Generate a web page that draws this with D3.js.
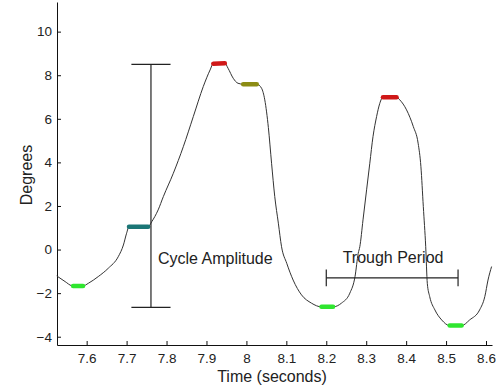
<!DOCTYPE html>
<html>
<head>
<meta charset="utf-8">
<script src="https://cdn.jsdelivr.net/npm/d3@7"></script>
<style>
  body { margin: 0; background: #fff; }
  svg text { font-family: "Liberation Sans", Arial, sans-serif; fill: #222; }
</style>
</head>
<body>
<svg width="497" height="390"></svg>
<script>

// traced signal: time (s) and angle (degrees)
var time = [7.525, 7.546, 7.5625, 7.566, 7.591, 7.604, 7.629, 7.654, 7.679, 7.692, 7.700, 7.706,
  7.754, 7.763, 7.779, 7.792, 7.817, 7.842, 7.867, 7.892, 7.909, 7.917, 7.946, 7.954, 7.967,
  7.979, 7.992, 8.026, 8.038, 8.046, 8.055, 8.063, 8.071, 8.080, 8.088, 8.101, 8.117, 8.138,
  8.163, 8.188, 8.217, 8.238, 8.259, 8.272, 8.280, 8.284, 8.292, 8.301, 8.309, 8.317, 8.326,
  8.334, 8.342, 8.376, 8.384, 8.401, 8.418, 8.430, 8.437, 8.443, 8.449, 8.453, 8.459, 8.472,
  8.489, 8.509, 8.539, 8.559, 8.584, 8.597, 8.605, 8.614];
var degrees = [-1.21, -1.47, -1.66, -1.67, -1.67, -1.55, -1.24, -0.86, -0.33, 0.21, 0.75, 1.05,
  1.05, 1.28, 1.82, 2.43, 3.5, 4.72, 6.1, 7.48, 8.24, 8.53, 8.55, 8.32, 7.86,
  7.63, 7.59, 7.59, 7.4, 6.87, 5.6, 3.96, 2.43, 1.21, 0.13, -0.63, -1.4, -2.08,
  -2.46, -2.63, -2.63, -2.46, -2.0, -1.24, -0.17, 0.13, 1.36, 2.74, 3.96, 5.18, 6.1,
  6.71, 6.99, 6.99, 6.87, 6.41, 5.64, 4.88, 3.8, 1.97, 0.13, -1.55, -2.16, -2.77,
  -3.23, -3.49, -3.49, -3.23, -2.77, -2.16, -1.4, -0.78];

// highlighted peaks / troughs: [start time, end time, colour]
var markStart = [7.566, 7.706, 7.917, 7.992, 8.342, 8.188, 8.509];
var markEnd   = [7.591, 7.754, 7.946, 8.026, 8.376, 8.217, 8.539];
var markColor = ["#2fe62f", "#1b7676", "#d01818", "#8c8c14", "#d01818", "#2fe62f", "#2fe62f"];

var xTicks = [7.6, 7.7, 7.8, 7.9, 8.0, 8.1, 8.2, 8.3, 8.4, 8.5, 8.6];
var yTicks = [-4, -2, 0, 2, 4, 6, 8, 10];

// annotation bars
var ampTime = 7.761, ampTop = 8.5, ampBottom = -2.65, ampCapHalf = 0.049;
var perStart = 8.20, perEnd = 8.53, perLevel = -1.3, perCapHalf = 0.38;

var svg = d3.select("svg");

var x = d3.scaleLinear().domain([7.5257, 8.615]).range([57, 492]);
var y = d3.scaleLinear().domain([-4.38, 11.36]).range([345, 2]);

var gx = svg.append("g")
    .attr("transform", "translate(0,345)")
    .call(d3.axisBottom(x).tickValues(xTicks)
      .tickFormat(function(d) { return d == 8 ? "8" : d3.format(".1f")(d); })
      .tickSizeInner(-4).tickSizeOuter(0).tickPadding(8));
var gy = svg.append("g")
    .attr("transform", "translate(57,0)")
    .call(d3.axisLeft(y).tickValues(yTicks).tickSizeInner(-4).tickSizeOuter(0).tickPadding(5));

svg.selectAll(".tick text").style("font-size", "13.5px").style("fill", "#222");
svg.selectAll(".domain, .tick line").attr("stroke", "#111");

svg.append("text")
    .attr("transform", "translate(32,175) rotate(-90)")
    .attr("text-anchor", "middle")
    .style("font-size", "16px")
    .text("Degrees");
svg.append("text")
    .attr("x", 272).attr("y", 382)
    .attr("text-anchor", "middle")
    .style("font-size", "16px")
    .text("Time (seconds)");

var pts = time.map(function(t, i) { return [t, degrees[i]]; });
var line = d3.line()
    .x(function(d) { return x(d[0]); })
    .y(function(d) { return y(d[1]); })
    .curve(d3.curveMonotoneX);

svg.append("path")
    .datum(pts)
    .attr("fill", "none")
    .attr("stroke", "#333")
    .attr("stroke-width", 1)
    .attr("d", line);

markStart.forEach(function(s, i) {
  var seg = pts.filter(function(p) { return p[0] >= s - 1e-6 && p[0] <= markEnd[i] + 1e-6; });
  svg.append("path")
      .datum(seg)
      .attr("fill", "none")
      .attr("stroke", markColor[i])
      .attr("stroke-width", 4.5)
      .attr("stroke-linecap", "round")
      .attr("d", line);
});

// cycle amplitude bar
var ann = svg.append("g").attr("stroke", "#222").attr("stroke-width", 1.2);
ann.append("line").attr("x1", x(ampTime)).attr("x2", x(ampTime)).attr("y1", y(ampTop)).attr("y2", y(ampBottom));
ann.append("line").attr("x1", x(ampTime - ampCapHalf)).attr("x2", x(ampTime + ampCapHalf)).attr("y1", y(ampTop)).attr("y2", y(ampTop));
ann.append("line").attr("x1", x(ampTime - ampCapHalf)).attr("x2", x(ampTime + ampCapHalf)).attr("y1", y(ampBottom)).attr("y2", y(ampBottom));

// trough period bar
ann.append("line").attr("x1", x(perStart)).attr("x2", x(perEnd)).attr("y1", y(perLevel)).attr("y2", y(perLevel));
ann.append("line").attr("x1", x(perStart)).attr("x2", x(perStart)).attr("y1", y(perLevel + perCapHalf)).attr("y2", y(perLevel - perCapHalf));
ann.append("line").attr("x1", x(perEnd)).attr("x2", x(perEnd)).attr("y1", y(perLevel + perCapHalf)).attr("y2", y(perLevel - perCapHalf));

svg.append("text")
    .attr("x", x(7.7785)).attr("y", y(-0.66))
    .style("font-size", "16px")
    .text("Cycle Amplitude");
svg.append("text")
    .attr("x", x(8.241)).attr("y", y(-0.63))
    .style("font-size", "16px")
    .text("Trough Period");

</script>
</body>
</html>
